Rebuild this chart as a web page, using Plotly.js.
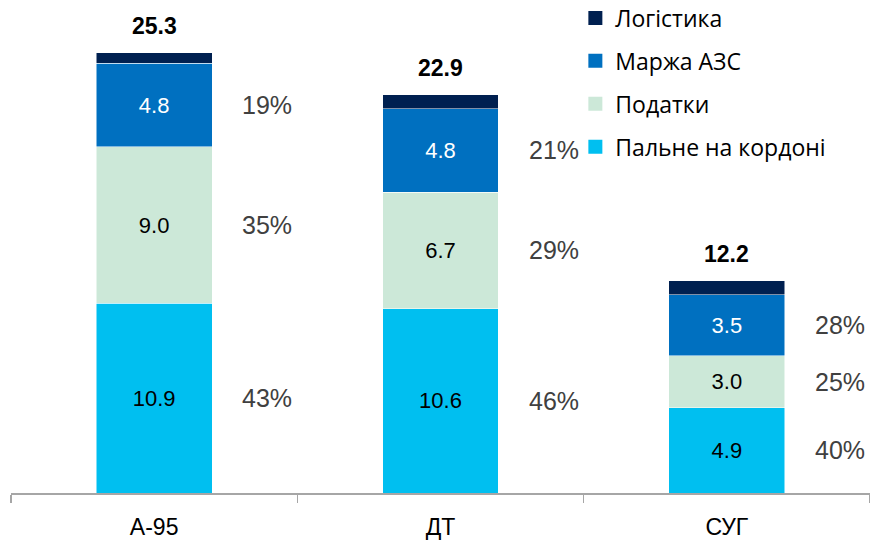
<!DOCTYPE html>
<html><head><meta charset="utf-8">
<script src="https://cdn.plot.ly/plotly-3.0.1.min.js"></script>
<style>body{margin:0;background:#fff}</style>
</head><body><div id="chart" style="width:870px;height:541px"></div>
<script>
const categories = ['A-95', 'ДТ', 'СУГ'];
const fuelBorder = [10.9, 10.6, 4.9];   // Пальне на кордоні
const taxes      = [9.0, 6.7, 3.0];     // Податки
const margin     = [4.8, 4.8, 3.5];     // Маржа АЗС
const logistics  = [0.6, 0.8, 0.8];     // Логістика
const totals     = [25.3, 22.9, 12.2];
const pctFuel    = ['43%', '46%', '40%'];
const pctTaxes   = ['35%', '29%', '25%'];
const pctMargin  = ['19%', '21%', '28%'];

const names = ['Пальне на кордоні', 'Податки', 'Маржа АЗС', 'Логістика'];
const colors = ['#00BFF0', '#CCE8D8', '#0070C0', '#002050'];
const series = [fuelBorder, taxes, margin, logistics];
const textColors = ['#000000', '#000000', '#ffffff', '#ffffff'];
const FONT = 'Liberation Sans, Arial, sans-serif';

const traces = series.map((vals, i) => ({
  type: 'bar', x: categories, y: vals, name: names[i],
  showlegend: false,
  marker: {color: colors[i], line: {color: '#ffffff', width: 0.5}},
  text: i < 3 ? vals.map(v => v.toFixed(1)) : vals.map(() => ''),
  textposition: 'inside', insidetextanchor: 'middle',
  textfont: {family: FONT, size: 22, color: textColors[i]},
  constraintext: 'none',
  hoverinfo: 'skip', width: 0.405
}));

// legend entries with larger square swatches
names.forEach((n, i) => {
  traces.push({type: 'scatter', mode: 'markers', x: [null], y: [null], name: n,
    legendgroup: 'g' + i, legendrank: 4 - i, showlegend: true,
    marker: {symbol: 'square', size: 14, color: colors[i]}, hoverinfo: 'skip'});
});

const annotations = [];
categories.forEach((c, k) => {
  annotations.push({x: c, y: totals[k], yanchor: 'middle', yshift: 27, showarrow: false,
    text: '<b>' + totals[k].toFixed(1) + '</b>',
    font: {family: FONT, size: 23, color: '#000'}});
  const pcts = [pctFuel, pctTaxes, pctMargin];
  let base = 0;
  for (let i = 0; i < 3; i++) {
    const mid = base + series[i][k] / 2;
    base += series[i][k];
    annotations.push({x: c, y: mid, xshift: 113, showarrow: false, text: pcts[i][k],
      font: {family: FONT, size: 25, color: '#404040'}});
  }
});

const layout = {
  width: 870, height: 541,
  margin: {l: 11, r: 0, t: 10, b: 48, autoexpand: false},
  barmode: 'stack', bargap: 0.6,
  paper_bgcolor: '#fff', plot_bgcolor: '#fff',
  uniformtext: {mode: false},
  xaxis: {type: 'category', range: [-0.5, 2.5], showline: true, linecolor: '#A6A6A6', linewidth: 1.5,
    ticks: 'outside', tickson: 'boundaries', ticklen: 8, tickcolor: '#A6A6A6', tickwidth: 1.5,
    ticklabelstandoff: 13, automargin: false,
    showgrid: false, zeroline: false,
    tickfont: {family: FONT, size: 23, color: '#000'}},
  yaxis: {range: [0, 27.77], visible: false, showgrid: false, zeroline: false},
  showlegend: true,
  legend: {x: 0.657, y: 1.028, xanchor: 'left', yanchor: 'top', traceorder: 'grouped',
    tracegroupgap: 10, itemsizing: 'trace',
    font: {family: 'Open Sans, Noto Sans, sans-serif', size: 23, color: '#000'},
    bgcolor: 'rgba(0,0,0,0)'},
  annotations: annotations
};

Plotly.newPlot('chart', traces, layout, {displayModeBar: false, staticPlot: true});
</script></body></html>
